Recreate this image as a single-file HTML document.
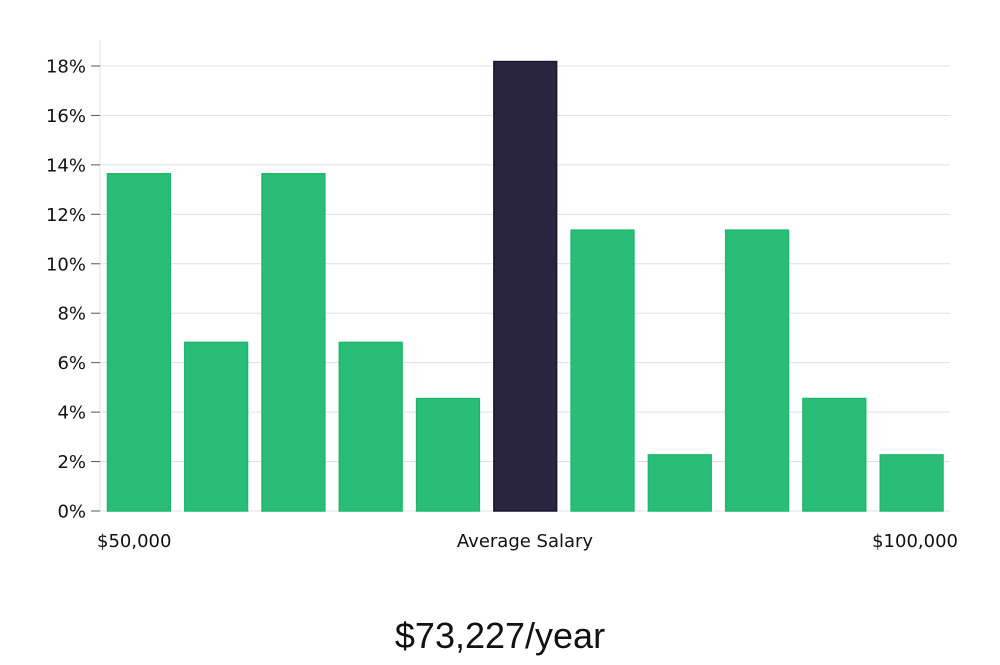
<!DOCTYPE html>
<html><head><meta charset="utf-8"><style>
body{margin:0;background:#fff;font-family:"Liberation Sans","DejaVu Sans",sans-serif}
svg text{font-family:"DejaVu Sans","Liberation Sans",sans-serif}
</style></head><body>
<svg id="chart" width="1000" height="660" viewBox="0 0 1000 660" xmlns="http://www.w3.org/2000/svg">
<g id="grid"></g>
<line x1="100" y1="40" x2="100" y2="511" stroke="#e0e0e0" stroke-width="1"/>
<g id="ticks"></g>
<g id="bars"></g>
<text x="97" y="547" font-size="18" fill="#111">$50,000</text>
<text x="525" y="547" font-size="18" fill="#111" text-anchor="middle">Average Salary</text>
<text x="958" y="547" font-size="18" fill="#111" text-anchor="end">$100,000</text>
<text x="500" y="648" font-size="36" fill="#111" text-anchor="middle" style="font-family:'Liberation Sans',sans-serif">$73,227/year</text>
</svg>
<script>
const values = [13.64, 6.82, 13.64, 6.82, 4.55, 18.18, 11.36, 2.27, 11.36, 4.55, 2.27];
const highlight = [false, false, false, false, false, true, false, false, false, false, false];
const tickValues = [0, 2, 4, 6, 8, 10, 12, 14, 16, 18];
const tickLabels = ["0%", "2%", "4%", "6%", "8%", "10%", "12%", "14%", "16%", "18%"];
const NS = "http://www.w3.org/2000/svg";
const x0 = 100, x1 = 950, y0 = 511, yTop = 66;
const y = v => y0 - (v / 18) * (y0 - yTop);
const slot = (x1 - x0) / values.length;
const grid = document.getElementById('grid'), ticks = document.getElementById('ticks'), bars = document.getElementById('bars');
tickValues.forEach((t, i) => {
  const gy = y(t);
  const l = document.createElementNS(NS, 'line');
  
  
  l.setAttribute('x1', x0); l.setAttribute('x2', x1); l.setAttribute('y1', gy); l.setAttribute('y2', gy);
  l.setAttribute('stroke', '#e0e0e0');
  grid.appendChild(l);
  const tk = document.createElementNS(NS, 'line');
  
  
  tk.setAttribute('x1', 91); tk.setAttribute('x2', x0); tk.setAttribute('y1', gy); tk.setAttribute('y2', gy);
  tk.setAttribute('stroke', '#555');
  ticks.appendChild(tk);
  const tx = document.createElementNS(NS, 'text');
  
  
  tx.setAttribute('x', 86); tx.setAttribute('y', gy + 6.5);
  tx.setAttribute('text-anchor', 'end'); tx.setAttribute('font-size', '18'); tx.setAttribute('fill', '#111');
  tx.textContent = tickLabels[i];
  ticks.appendChild(tx);
});
values.forEach((v, i) => {
  const r = document.createElementNS(NS, 'rect');
  
  
  const bx = x0 + i * slot + 7.5;
  r.setAttribute('x', bx); r.setAttribute('width', slot - 14.5);
  r.setAttribute('y', y(v)); r.setAttribute('height', y0 - y(v));
  r.setAttribute('fill', highlight[i] ? '#29243f' : '#2abd77');
  r.setAttribute('stroke', highlight[i] ? '#1a1535' : '#1db86c');
  r.setAttribute('stroke-width', '1.5');
  bars.appendChild(r);
});
</script>
</body></html>
